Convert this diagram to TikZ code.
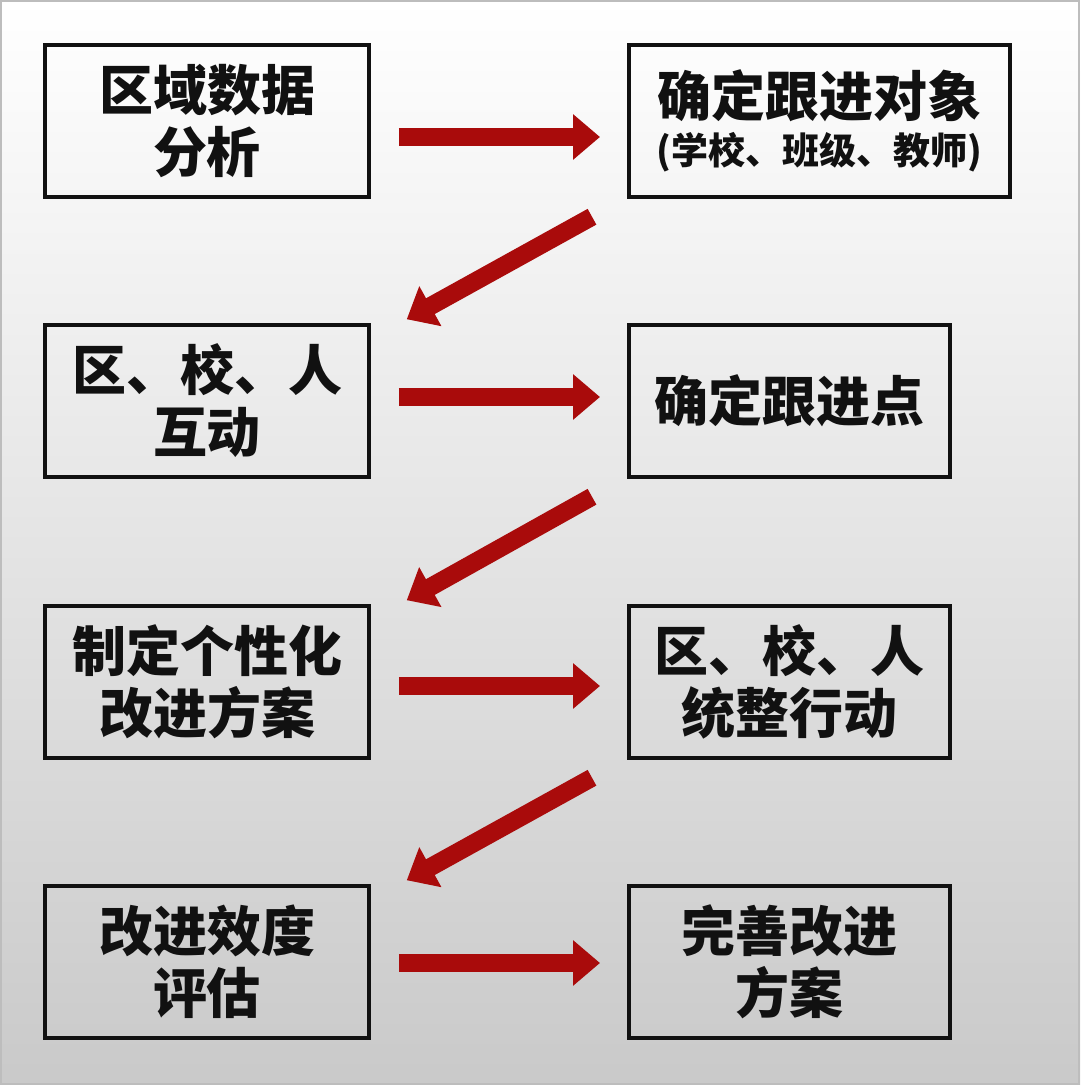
\documentclass[tikz,border=0pt]{standalone}
\usepackage{fontspec}
\setmainfont{Noto Sans CJK SC}
\usepackage{xcolor}
\definecolor{ink}{HTML}{111111}
\definecolor{frame}{HTML}{BDBDBD}
\definecolor{pfeilrot}{HTML}{A90B0B}
\usepackage{tikz}
\usetikzlibrary{arrows.meta}
\tikzset{
  stepbox/.style={draw=ink,text=ink,line width=3.5pt,minimum height=152pt,align=center,inner sep=0pt,
    font=\bfseries\fontsize{54}{62}\selectfont},
  flow/.style={pfeilrot,line width=18pt,-{Triangle[width=44pt,length=27pt]}}
}

\begin{document}
\begin{tikzpicture}[x=1pt,y=1pt]
  \useasboundingbox (0,0) rectangle (1080,1085);
  \shade[top color=white,middle color=black!6,bottom color=black!21] (0,0) rectangle (1080,1085);
  \draw[frame,line width=2pt] (1,1) rectangle (1079,1084);
  \foreach \i/\y/\links/\rechts/\breite in {
    1/964/{区域数据\\分析}/{确定跟进对象\\[-14pt]{\fontsize{37}{42}\selectfont(学校、班级、教师)}}/381,
    2/684/{区、校、人\\互动}/{确定跟进点}/321,
    3/403/{制定个性化\\改进方案}/{区、校、人\\统整行动}/321,
    4/123/{改进效度\\评估}/{完善改进\\方案}/321} {
    \node[stepbox,minimum width=324pt] (l\i) at (207,\y) {\links};
    \node[stepbox,minimum width=\breite pt,anchor=west] (r\i) at (627,\y) {\rechts};
  }
  \foreach \i/\dy in {1/-16,2/4,3/-4,4/-1}
    \draw[flow,shorten <=28pt,shorten >=27pt] ([yshift=\dy pt]l\i.east) -- ([yshift=\dy pt]r\i.west);
  \foreach \i/\j in {1/2,2/3,3/4}
    \draw[flow] ([xshift=-35pt,yshift=-18pt]r\i.south west) -- ([xshift=36pt,yshift=4pt]l\j.north east);
\end{tikzpicture}
\end{document}
